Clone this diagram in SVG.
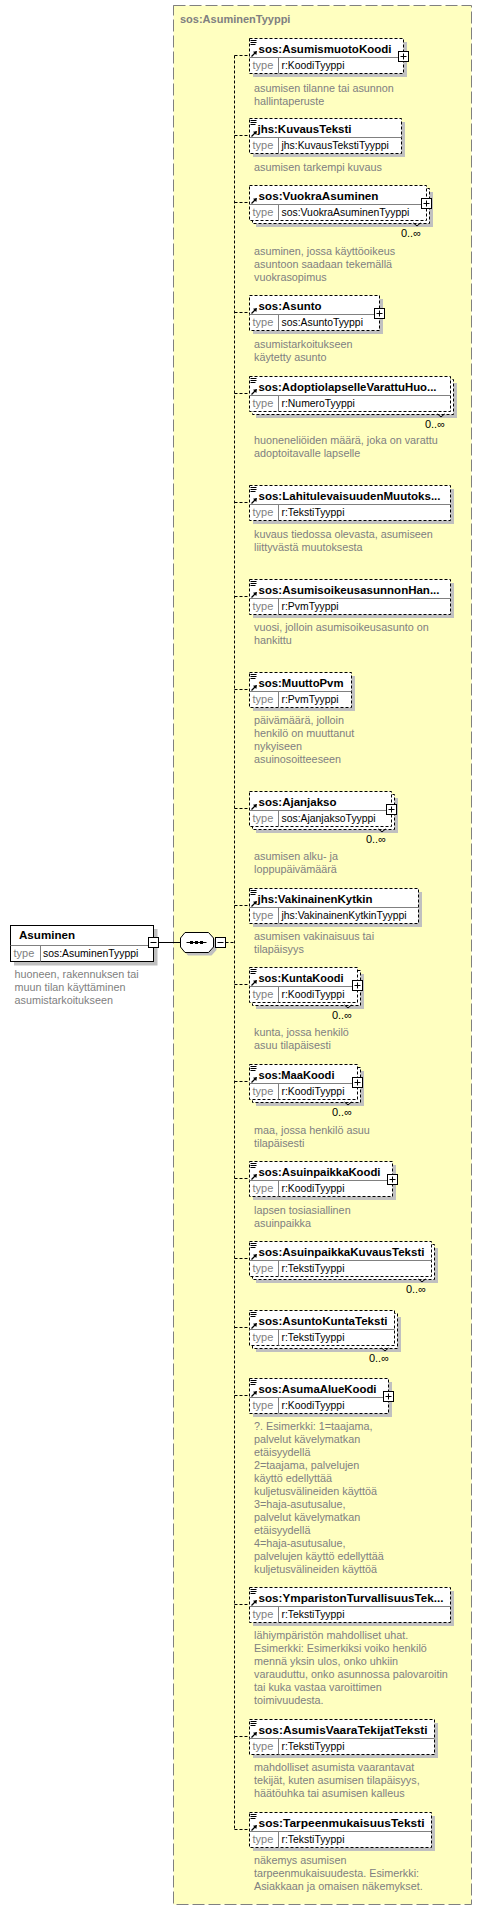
<svg xmlns="http://www.w3.org/2000/svg" xmlns:xlink="http://www.w3.org/1999/xlink" width="482" height="1910" viewBox="0 0 482 1910">
<defs>
<style>
text{font-family:"Liberation Sans",Arial,sans-serif}
.nm{font-size:11px;font-weight:bold;fill:#000}
.tt{font-size:11px;font-weight:bold;fill:#808080}
.tl{font-size:11px;fill:#808080}
.tv{font-size:10.4px;fill:#000}
.ds{font-size:10.8px;fill:#808080}
.oc{font-size:11px;fill:#000}
.bx{fill:#fff;stroke:#000;stroke-dasharray:3,2}
.sb{fill:#fff;stroke:#000}
.sh{fill:#c0c0c0}
.hl{fill:none;stroke:#808080}
.cn{fill:none;stroke:#000;stroke-dasharray:3,2}
.ln{fill:none;stroke:#000}
</style>
<g id="doc"><path d="M1,2h6M1,4h6M1,6h5" stroke="#000" fill="none"/></g>
<g id="ref"><path d="M2,18L5.5,14.5" stroke="#000" stroke-width="1.3" fill="none"/><polygon points="7.5,12.5 3.5,13.2 6.8,16.5" fill="#000"/></g>
<g id="plus"><rect x="-5" y="-5" width="10" height="10" fill="#fff" stroke="#000"/><path d="M-3,0H3M0,-3V3" stroke="#000" fill="none"/></g>
<g id="minus"><rect x="-5" y="-5" width="10" height="10" fill="#fff" stroke="#000"/><path d="M-3,0H3" stroke="#000" fill="none"/></g>
</defs>
<rect width="482" height="1910" fill="#fff"/>

<g id="container">
<rect x="173.5" y="5.5" width="298" height="1899" fill="#ffffc0" stroke="#808080" stroke-dasharray="12,4"/>
<text class="tt" x="180" y="22.5">sos:AsuminenTyyppi</text>
</g>

<g id="connectors">
<path class="ln" d="M158.5,942.5H180.5M213.5,942.5H215.5"/>
<path class="cn" d="M225.5,942.5H234.5M234.5,55.5V1829.5M234.5,55.5H249.5M234.5,135.5H249.5M234.5,202.5H249.5M234.5,312.5H249.5M234.5,393.5H249.5M234.5,502.5H249.5M234.5,596.5H249.5M234.5,689.5H249.5M234.5,808.5H249.5M234.5,905.5H249.5M234.5,984.5H249.5M234.5,1081.5H249.5M234.5,1178.5H249.5M234.5,1258.5H249.5M234.5,1327.5H249.5M234.5,1395.5H249.5M234.5,1604.5H249.5M234.5,1736.5H249.5M234.5,1829.5H249.5"/>
</g>

<g id="asuminen">
<rect class="sh" x="14" y="929" width="143.5" height="36.5"/>
<rect class="sb" x="10.5" y="925.5" width="143" height="36"/>
<path class="hl" d="M10.5,945.5H153.5M40.5,945.5V961.5"/>
<text class="nm" x="19" y="939" textLength="56" lengthAdjust="spacingAndGlyphs">Asuminen</text>
<text class="tl" x="13.5" y="957">type</text>
<text class="tv" x="43" y="957">sos:AsuminenTyyppi</text>
<use xlink:href="#minus" x="153.5" y="942.5"/>
<text class="ds" x="14.5" y="977.5">huoneen, rakennuksen tai<tspan x="14.5" dy="13">muun tilan käyttäminen</tspan><tspan x="14.5" dy="13">asumistarkoitukseen</tspan></text>
</g>

<g id="sequence">
<polygon transform="translate(3,3)" class="sh" points="185,932.5 208.5,932.5 213.5,938 213.5,947 208.5,952.5 185,952.5 180.5,947 180.5,938"/>
<polygon class="sb" points="185,932.5 208.5,932.5 213.5,938 213.5,947 208.5,952.5 185,952.5 180.5,947 180.5,938"/>
<path class="ln" d="M186.5,942.5H206.5"/>
<rect x="190" y="941" width="3" height="3" fill="#000"/>
<rect x="195" y="941" width="3" height="3" fill="#000"/>
<rect x="200" y="941" width="3" height="3" fill="#000"/>
<use xlink:href="#minus" x="220.5" y="942.5"/>
</g>

<g id="e1" transform="translate(249.5,38.5)">
<rect class="sh" x="3.5" y="3.5" width="154" height="35"/>
<rect class="bx" width="154" height="35"/>
<path class="hl" d="M0,19H154M29,19V35"/>
<use xlink:href="#doc"/><use xlink:href="#ref"/>
<text class="nm" x="9" y="14" textLength="133" lengthAdjust="spacingAndGlyphs">sos:AsumismuotoKoodi</text>
<text class="tl" x="3" y="30">type</text><text class="tv" x="32" y="30">r:KoodiTyyppi</text>
<use xlink:href="#plus" x="154" y="18"/>
<text class="ds" x="4.5" y="53">asumisen tilanne tai asunnon<tspan x="4.5" dy="13">hallintaperuste</tspan></text>
</g>

<g id="e2" transform="translate(249.5,118.5)">
<rect class="sh" x="3.5" y="3.5" width="152" height="35"/>
<rect class="bx" width="152" height="35"/>
<path class="hl" d="M0,19H152M29,19V35"/>
<use xlink:href="#doc"/><use xlink:href="#ref"/>
<text class="nm" x="8" y="14" textLength="94" lengthAdjust="spacingAndGlyphs">jhs:KuvausTeksti</text>
<text class="tl" x="3" y="30">type</text><text class="tv" x="32" y="30">jhs:KuvausTekstiTyyppi</text>
<text class="ds" x="4.5" y="52">asumisen tarkempi kuvaus</text>
</g>

<g id="e3" transform="translate(249.5,185.5)">
<rect class="sh" x="6.5" y="6.5" width="177" height="35"/>
<rect class="bx" x="3" y="3" width="177" height="35"/>
<rect class="bx" width="177" height="35"/>
<path class="hl" d="M0,19H177M29,19V35"/>
<use xlink:href="#ref"/>
<text class="nm" x="9" y="14" textLength="120" lengthAdjust="spacingAndGlyphs">sos:VuokraAsuminen</text>
<text class="tl" x="3" y="30">type</text><text class="tv" x="32" y="30">sos:VuokraAsuminenTyyppi</text>
<use xlink:href="#plus" x="177" y="18"/>
<path class="ln" d="M164,37.5L167.5,40.5L171,37.5"/>
<text class="oc" x="171.5" y="51.5" text-anchor="end">0..∞</text>
<text class="ds" x="4.5" y="69">asuminen, jossa käyttöoikeus<tspan x="4.5" dy="13">asuntoon saadaan tekemällä</tspan><tspan x="4.5" dy="13">vuokrasopimus</tspan></text>
</g>

<g id="e4" transform="translate(249.5,295.5)">
<rect class="sh" x="3.5" y="3.5" width="130" height="35"/>
<rect class="bx" width="130" height="35"/>
<path class="hl" d="M0,19H130M29,19V35"/>
<use xlink:href="#ref"/>
<text class="nm" x="9" y="14" textLength="63" lengthAdjust="spacingAndGlyphs">sos:Asunto</text>
<text class="tl" x="3" y="30">type</text><text class="tv" x="32" y="30">sos:AsuntoTyyppi</text>
<use xlink:href="#plus" x="130" y="18"/>
<text class="ds" x="4.5" y="52">asumistarkoitukseen<tspan x="4.5" dy="13">käytetty asunto</tspan></text>
</g>

<g id="e5" transform="translate(249.5,376.5)">
<rect class="sh" x="6.5" y="6.5" width="201" height="35"/>
<rect class="bx" x="3" y="3" width="201" height="35"/>
<rect class="bx" width="201" height="35"/>
<path class="hl" d="M0,19H201M29,19V35"/>
<use xlink:href="#doc"/><use xlink:href="#ref"/>
<text class="nm" x="9" y="14" textLength="178" lengthAdjust="spacingAndGlyphs">sos:AdoptiolapselleVarattuHuo...</text>
<text class="tl" x="3" y="30">type</text><text class="tv" x="32" y="30">r:NumeroTyyppi</text>
<path class="ln" d="M188,37.5L191.5,40.5L195,37.5"/>
<text class="oc" x="195.5" y="51.5" text-anchor="end">0..∞</text>
<text class="ds" x="4.5" y="67.5">huoneneliöiden määrä, joka on varattu<tspan x="4.5" dy="13">adoptoitavalle lapselle</tspan></text>
</g>

<g id="e6" transform="translate(249.5,485.5)">
<rect class="sh" x="3.5" y="3.5" width="201" height="35"/>
<rect class="bx" width="201" height="35"/>
<path class="hl" d="M0,19H201M29,19V35"/>
<use xlink:href="#doc"/><use xlink:href="#ref"/>
<text class="nm" x="9" y="14" textLength="182" lengthAdjust="spacingAndGlyphs">sos:LahitulevaisuudenMuutoks...</text>
<text class="tl" x="3" y="30">type</text><text class="tv" x="32" y="30">r:TekstiTyyppi</text>
<text class="ds" x="4.5" y="52">kuvaus tiedossa olevasta, asumiseen<tspan x="4.5" dy="13">liittyvästä muutoksesta</tspan></text>
</g>

<g id="e7" transform="translate(249.5,579.5)">
<rect class="sh" x="3.5" y="3.5" width="201" height="35"/>
<rect class="bx" width="201" height="35"/>
<path class="hl" d="M0,19H201M29,19V35"/>
<use xlink:href="#doc"/><use xlink:href="#ref"/>
<text class="nm" x="9" y="14" textLength="181" lengthAdjust="spacingAndGlyphs">sos:AsumisoikeusasunnonHan...</text>
<text class="tl" x="3" y="30">type</text><text class="tv" x="32" y="30">r:PvmTyyppi</text>
<text class="ds" x="4.5" y="51.5">vuosi, jolloin asumisoikeusasunto on<tspan x="4.5" dy="13">hankittu</tspan></text>
</g>

<g id="e8" transform="translate(249.5,672.5)">
<rect class="sh" x="3.5" y="3.5" width="102" height="35"/>
<rect class="bx" width="102" height="35"/>
<path class="hl" d="M0,19H102M29,19V35"/>
<use xlink:href="#doc"/><use xlink:href="#ref"/>
<text class="nm" x="9" y="14" textLength="85" lengthAdjust="spacingAndGlyphs">sos:MuuttoPvm</text>
<text class="tl" x="3" y="30">type</text><text class="tv" x="32" y="30">r:PvmTyyppi</text>
<text class="ds" x="4.5" y="51">päivämäärä, jolloin<tspan x="4.5" dy="13">henkilö on muuttanut</tspan><tspan x="4.5" dy="13">nykyiseen</tspan><tspan x="4.5" dy="13">asuinosoitteeseen</tspan></text>
</g>

<g id="e9" transform="translate(249.5,791.5)">
<rect class="sh" x="6.5" y="6.5" width="142" height="35"/>
<rect class="bx" x="3" y="3" width="142" height="35"/>
<rect class="bx" width="142" height="35"/>
<path class="hl" d="M0,19H142M29,19V35"/>
<use xlink:href="#ref"/>
<text class="nm" x="9" y="14" textLength="78" lengthAdjust="spacingAndGlyphs">sos:Ajanjakso</text>
<text class="tl" x="3" y="30">type</text><text class="tv" x="32" y="30">sos:AjanjaksoTyyppi</text>
<use xlink:href="#plus" x="142" y="18"/>
<path class="ln" d="M129,37.5L132.5,40.5L136,37.5"/>
<text class="oc" x="136.5" y="51.5" text-anchor="end">0..∞</text>
<text class="ds" x="4.5" y="68">asumisen alku- ja<tspan x="4.5" dy="13">loppupäivämäärä</tspan></text>
</g>

<g id="e10" transform="translate(249.5,888.5)">
<rect class="sh" x="3.5" y="3.5" width="169" height="35"/>
<rect class="bx" width="169" height="35"/>
<path class="hl" d="M0,19H169M29,19V35"/>
<use xlink:href="#doc"/><use xlink:href="#ref"/>
<text class="nm" x="8" y="14" textLength="115" lengthAdjust="spacingAndGlyphs">jhs:VakinainenKytkin</text>
<text class="tl" x="3" y="30">type</text><text class="tv" x="32" y="30">jhs:VakinainenKytkinTyyppi</text>
<text class="ds" x="4.5" y="51">asumisen vakinaisuus tai<tspan x="4.5" dy="13">tilapäisyys</tspan></text>
</g>

<g id="e11" transform="translate(249.5,967.5)">
<rect class="sh" x="6.5" y="6.5" width="108" height="35"/>
<rect class="bx" x="3" y="3" width="108" height="35"/>
<rect class="bx" width="108" height="35"/>
<path class="hl" d="M0,19H108M29,19V35"/>
<use xlink:href="#doc"/><use xlink:href="#ref"/>
<text class="nm" x="9" y="14" textLength="85" lengthAdjust="spacingAndGlyphs">sos:KuntaKoodi</text>
<text class="tl" x="3" y="30">type</text><text class="tv" x="32" y="30">r:KoodiTyyppi</text>
<use xlink:href="#plus" x="108" y="18"/>
<path class="ln" d="M95,37.5L98.5,40.5L102,37.5"/>
<text class="oc" x="102.5" y="51.5" text-anchor="end">0..∞</text>
<text class="ds" x="4.5" y="68.5">kunta, jossa henkilö<tspan x="4.5" dy="13">asuu tilapäisesti</tspan></text>
</g>

<g id="e12" transform="translate(249.5,1064.5)">
<rect class="sh" x="6.5" y="6.5" width="108" height="35"/>
<rect class="bx" x="3" y="3" width="108" height="35"/>
<rect class="bx" width="108" height="35"/>
<path class="hl" d="M0,19H108M29,19V35"/>
<use xlink:href="#doc"/><use xlink:href="#ref"/>
<text class="nm" x="9" y="14" textLength="76" lengthAdjust="spacingAndGlyphs">sos:MaaKoodi</text>
<text class="tl" x="3" y="30">type</text><text class="tv" x="32" y="30">r:KoodiTyyppi</text>
<use xlink:href="#plus" x="108" y="18"/>
<path class="ln" d="M95,37.5L98.5,40.5L102,37.5"/>
<text class="oc" x="102.5" y="51.5" text-anchor="end">0..∞</text>
<text class="ds" x="4.5" y="69">maa, jossa henkilö asuu<tspan x="4.5" dy="13">tilapäisesti</tspan></text>
</g>

<g id="e13" transform="translate(249.5,1161.5)">
<rect class="sh" x="3.5" y="3.5" width="143" height="35"/>
<rect class="bx" width="143" height="35"/>
<path class="hl" d="M0,19H143M29,19V35"/>
<use xlink:href="#doc"/><use xlink:href="#ref"/>
<text class="nm" x="9" y="14" textLength="122" lengthAdjust="spacingAndGlyphs">sos:AsuinpaikkaKoodi</text>
<text class="tl" x="3" y="30">type</text><text class="tv" x="32" y="30">r:KoodiTyyppi</text>
<use xlink:href="#plus" x="143" y="18"/>
<text class="ds" x="4.5" y="52">lapsen tosiasiallinen<tspan x="4.5" dy="13">asuinpaikka</tspan></text>
</g>

<g id="e14" transform="translate(249.5,1241.5)">
<rect class="sh" x="6.5" y="6.5" width="182" height="35"/>
<rect class="bx" x="3" y="3" width="182" height="35"/>
<rect class="bx" width="182" height="35"/>
<path class="hl" d="M0,19H182M29,19V35"/>
<use xlink:href="#doc"/><use xlink:href="#ref"/>
<text class="nm" x="9" y="14" textLength="166" lengthAdjust="spacingAndGlyphs">sos:AsuinpaikkaKuvausTeksti</text>
<text class="tl" x="3" y="30">type</text><text class="tv" x="32" y="30">r:TekstiTyyppi</text>
<path class="ln" d="M169,37.5L172.5,40.5L176,37.5"/>
<text class="oc" x="176.5" y="51.5" text-anchor="end">0..∞</text>
</g>

<g id="e15" transform="translate(249.5,1310.5)">
<rect class="sh" x="6.5" y="6.5" width="145" height="35"/>
<rect class="bx" x="3" y="3" width="145" height="35"/>
<rect class="bx" width="145" height="35"/>
<path class="hl" d="M0,19H145M29,19V35"/>
<use xlink:href="#doc"/><use xlink:href="#ref"/>
<text class="nm" x="9" y="14" textLength="129" lengthAdjust="spacingAndGlyphs">sos:AsuntoKuntaTeksti</text>
<text class="tl" x="3" y="30">type</text><text class="tv" x="32" y="30">r:TekstiTyyppi</text>
<path class="ln" d="M132,37.5L135.5,40.5L139,37.5"/>
<text class="oc" x="139.5" y="51.5" text-anchor="end">0..∞</text>
</g>

<g id="e16" transform="translate(249.5,1378.5)">
<rect class="sh" x="3.5" y="3.5" width="139" height="35"/>
<rect class="bx" width="139" height="35"/>
<path class="hl" d="M0,19H139M29,19V35"/>
<use xlink:href="#doc"/><use xlink:href="#ref"/>
<text class="nm" x="9" y="14" textLength="118" lengthAdjust="spacingAndGlyphs">sos:AsumaAlueKoodi</text>
<text class="tl" x="3" y="30">type</text><text class="tv" x="32" y="30">r:KoodiTyyppi</text>
<use xlink:href="#plus" x="139" y="18"/>
<text class="ds" x="4.5" y="51">?. Esimerkki: 1=taajama,<tspan x="4.5" dy="13">palvelut kävelymatkan</tspan><tspan x="4.5" dy="13">etäisyydellä</tspan><tspan x="4.5" dy="13">2=taajama, palvelujen</tspan><tspan x="4.5" dy="13">käyttö edellyttää</tspan><tspan x="4.5" dy="13">kuljetusvälineiden käyttöä</tspan><tspan x="4.5" dy="13">3=haja-asutusalue,</tspan><tspan x="4.5" dy="13">palvelut kävelymatkan</tspan><tspan x="4.5" dy="13">etäisyydellä</tspan><tspan x="4.5" dy="13">4=haja-asutusalue,</tspan><tspan x="4.5" dy="13">palvelujen käyttö edellyttää</tspan><tspan x="4.5" dy="13">kuljetusvälineiden käyttöä</tspan></text>
</g>

<g id="e17" transform="translate(249.5,1587.5)">
<rect class="sh" x="3.5" y="3.5" width="201" height="35"/>
<rect class="bx" width="201" height="35"/>
<path class="hl" d="M0,19H201M29,19V35"/>
<use xlink:href="#doc"/><use xlink:href="#ref"/>
<text class="nm" x="9" y="14" textLength="185" lengthAdjust="spacingAndGlyphs">sos:YmparistonTurvallisuusTek...</text>
<text class="tl" x="3" y="30">type</text><text class="tv" x="32" y="30">r:TekstiTyyppi</text>
<text class="ds" x="4.5" y="51">lähiympäristön mahdolliset uhat.<tspan x="4.5" dy="13">Esimerkki: Esimerkiksi voiko henkilö</tspan><tspan x="4.5" dy="13">mennä yksin ulos, onko uhkiin</tspan><tspan x="4.5" dy="13">varauduttu, onko asunnossa palovaroitin</tspan><tspan x="4.5" dy="13">tai kuka vastaa varoittimen</tspan><tspan x="4.5" dy="13">toimivuudesta.</tspan></text>
</g>

<g id="e18" transform="translate(249.5,1719.5)">
<rect class="sh" x="3.5" y="3.5" width="185" height="35"/>
<rect class="bx" width="185" height="35"/>
<path class="hl" d="M0,19H185M29,19V35"/>
<use xlink:href="#doc"/><use xlink:href="#ref"/>
<text class="nm" x="9" y="14" textLength="169" lengthAdjust="spacingAndGlyphs">sos:AsumisVaaraTekijatTeksti</text>
<text class="tl" x="3" y="30">type</text><text class="tv" x="32" y="30">r:TekstiTyyppi</text>
<text class="ds" x="4.5" y="51.5">mahdolliset asumista vaarantavat<tspan x="4.5" dy="13">tekijät, kuten asumisen tilapäisyys,</tspan><tspan x="4.5" dy="13">häätöuhka tai asumisen kalleus</tspan></text>
</g>

<g id="e19" transform="translate(249.5,1812.5)">
<rect class="sh" x="3.5" y="3.5" width="182" height="35"/>
<rect class="bx" width="182" height="35"/>
<path class="hl" d="M0,19H182M29,19V35"/>
<use xlink:href="#doc"/><use xlink:href="#ref"/>
<text class="nm" x="9" y="14" textLength="166" lengthAdjust="spacingAndGlyphs">sos:TarpeenmukaisuusTeksti</text>
<text class="tl" x="3" y="30">type</text><text class="tv" x="32" y="30">r:TekstiTyyppi</text>
<text class="ds" x="4.5" y="51.5">näkemys asumisen<tspan x="4.5" dy="13">tarpeenmukaisuudesta. Esimerkki:</tspan><tspan x="4.5" dy="13">Asiakkaan ja omaisen näkemykset.</tspan></text>
</g>
</svg>
